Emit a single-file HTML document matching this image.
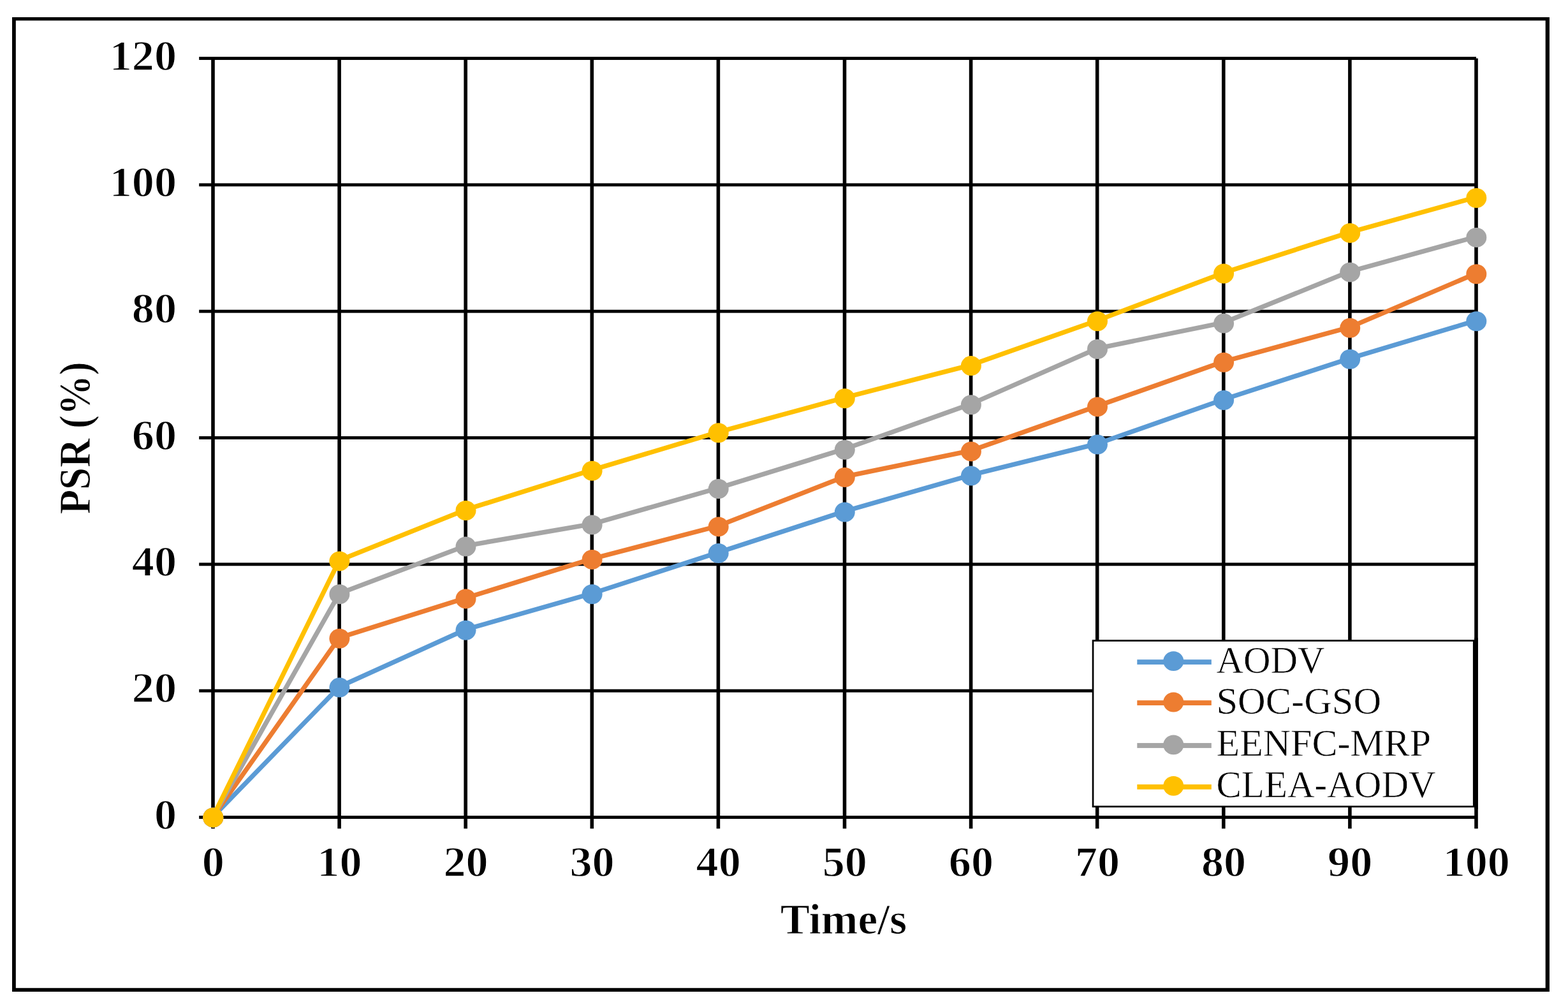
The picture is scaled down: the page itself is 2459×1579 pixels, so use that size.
<!DOCTYPE html>
<html lang="en">
<head>
<meta charset="utf-8">
<title>PSR (%) vs Time/s</title>
<style>
html,body{margin:0;padding:0;background:#fff;}
body{width:2459px;height:1579px;overflow:hidden;}
svg{display:block;}
text{font-family:"Liberation Serif","Times New Roman",serif;fill:#000;}
.tk{font-size:67.9px;font-weight:bold;stroke:#fff;stroke-width:1.3px;}
.ax{font-size:67px;font-weight:bold;stroke:#fff;stroke-width:1px;}
.lg{font-size:59.2px;stroke:#fff;stroke-width:0.6px;}
</style>
</head>
<body>
<svg width="2459" height="1579" viewBox="0 0 2459 1579">
<rect x="0" y="0" width="2459" height="1579" fill="#fff"/>
<path fill="#000" fill-rule="evenodd" d="M19.0 27.1H2430.0V1554.9H19.0Z M24.8 32.3V1549.2H2423.7V32.3Z"/>
<g fill="#000"><rect x="312.2" y="1279.05" width="2002.8" height="4.9"/><rect x="312.2" y="1080.72" width="2002.8" height="4.9"/><rect x="312.2" y="882.38" width="2002.8" height="4.9"/><rect x="312.2" y="684.05" width="2002.8" height="4.9"/><rect x="312.2" y="485.72" width="2002.8" height="4.9"/><rect x="312.2" y="287.39" width="2002.8" height="4.9"/><rect x="312.2" y="89.05" width="2002.8" height="4.9"/><rect x="331.2" y="91.5" width="5.6" height="1207.8"/><rect x="529.3" y="91.5" width="5.6" height="1207.8"/><rect x="727.4" y="91.5" width="5.6" height="1207.8"/><rect x="925.5" y="91.5" width="5.6" height="1207.8"/><rect x="1123.6" y="91.5" width="5.6" height="1207.8"/><rect x="1321.7" y="91.5" width="5.6" height="1207.8"/><rect x="1519.8" y="91.5" width="5.6" height="1207.8"/><rect x="1717.9" y="91.5" width="5.6" height="1207.8"/><rect x="1916" y="91.5" width="5.6" height="1207.8"/><rect x="2114.1" y="91.5" width="5.6" height="1207.8"/><rect x="2312.2" y="91.5" width="5.6" height="1207.8"/></g>
<polyline points="334,1280.7 532.1,1076.9 730.2,987.1 928.3,930.6 1126.4,866.3 1324.5,801.8 1522.6,744.9 1720.7,695.9 1918.8,626.4 2116.9,562 2315,502.6" fill="none" stroke="#5B9BD5" stroke-width="7.3" stroke-linejoin="round" stroke-linecap="round"/>
<g fill="#5B9BD5"><ellipse cx="334.3" cy="1281.9" rx="16.0" ry="15.5"/><ellipse cx="532.4" cy="1078.1" rx="16.0" ry="15.5"/><ellipse cx="730.5" cy="988.3" rx="16.0" ry="15.5"/><ellipse cx="928.6" cy="931.8" rx="16.0" ry="15.5"/><ellipse cx="1126.7" cy="867.5" rx="16.0" ry="15.5"/><ellipse cx="1324.8" cy="803" rx="16.0" ry="15.5"/><ellipse cx="1522.9" cy="746.1" rx="16.0" ry="15.5"/><ellipse cx="1721" cy="697.1" rx="16.0" ry="15.5"/><ellipse cx="1919.1" cy="627.6" rx="16.0" ry="15.5"/><ellipse cx="2117.2" cy="563.2" rx="16.0" ry="15.5"/><ellipse cx="2315.3" cy="503.8" rx="16.0" ry="15.5"/></g>
<polyline points="334,1280.7 532.1,1000 730.2,937.7 928.3,876.2 1126.4,824.7 1324.5,747.4 1522.6,706.7 1720.7,636.7 1918.8,567 2116.9,513 2315,428.6" fill="none" stroke="#ED7D31" stroke-width="7.3" stroke-linejoin="round" stroke-linecap="round"/>
<g fill="#ED7D31"><ellipse cx="334.3" cy="1281.9" rx="16.0" ry="15.5"/><ellipse cx="532.4" cy="1001.2" rx="16.0" ry="15.5"/><ellipse cx="730.5" cy="938.9" rx="16.0" ry="15.5"/><ellipse cx="928.6" cy="877.4" rx="16.0" ry="15.5"/><ellipse cx="1126.7" cy="825.9" rx="16.0" ry="15.5"/><ellipse cx="1324.8" cy="748.6" rx="16.0" ry="15.5"/><ellipse cx="1522.9" cy="707.9" rx="16.0" ry="15.5"/><ellipse cx="1721" cy="637.9" rx="16.0" ry="15.5"/><ellipse cx="1919.1" cy="568.2" rx="16.0" ry="15.5"/><ellipse cx="2117.2" cy="514.2" rx="16.0" ry="15.5"/><ellipse cx="2315.3" cy="429.8" rx="16.0" ry="15.5"/></g>
<polyline points="334,1280.7 532.1,930.6 730.2,855.8 928.3,821.7 1126.4,765.3 1324.5,704.1 1522.6,633.5 1720.7,546.3 1918.8,505.9 2116.9,425.7 2315,371.2" fill="none" stroke="#A5A5A5" stroke-width="7.3" stroke-linejoin="round" stroke-linecap="round"/>
<g fill="#A5A5A5"><ellipse cx="334.3" cy="1281.9" rx="16.0" ry="15.5"/><ellipse cx="532.4" cy="931.8" rx="16.0" ry="15.5"/><ellipse cx="730.5" cy="857" rx="16.0" ry="15.5"/><ellipse cx="928.6" cy="822.9" rx="16.0" ry="15.5"/><ellipse cx="1126.7" cy="766.5" rx="16.0" ry="15.5"/><ellipse cx="1324.8" cy="705.3" rx="16.0" ry="15.5"/><ellipse cx="1522.9" cy="634.7" rx="16.0" ry="15.5"/><ellipse cx="1721" cy="547.5" rx="16.0" ry="15.5"/><ellipse cx="1919.1" cy="507.1" rx="16.0" ry="15.5"/><ellipse cx="2117.2" cy="426.9" rx="16.0" ry="15.5"/><ellipse cx="2315.3" cy="372.4" rx="16.0" ry="15.5"/></g>
<polyline points="334,1280.7 532.1,878.7 730.2,799.3 928.3,737 1126.4,677.6 1324.5,623.6 1522.6,572.4 1720.7,502.6 1918.8,427.8 2116.9,364.2 2315,309.3" fill="none" stroke="#FFC000" stroke-width="7.3" stroke-linejoin="round" stroke-linecap="round"/>
<g fill="#FFC000"><ellipse cx="334.3" cy="1281.9" rx="16.0" ry="15.5"/><ellipse cx="532.4" cy="879.9" rx="16.0" ry="15.5"/><ellipse cx="730.5" cy="800.5" rx="16.0" ry="15.5"/><ellipse cx="928.6" cy="738.2" rx="16.0" ry="15.5"/><ellipse cx="1126.7" cy="678.8" rx="16.0" ry="15.5"/><ellipse cx="1324.8" cy="624.8" rx="16.0" ry="15.5"/><ellipse cx="1522.9" cy="573.6" rx="16.0" ry="15.5"/><ellipse cx="1721" cy="503.8" rx="16.0" ry="15.5"/><ellipse cx="1919.1" cy="429" rx="16.0" ry="15.5"/><ellipse cx="2117.2" cy="365.4" rx="16.0" ry="15.5"/><ellipse cx="2315.3" cy="310.5" rx="16.0" ry="15.5"/></g>
<rect x="1714.05" y="1004.55" width="597.2" height="260.2" fill="#fff" stroke="#000" stroke-width="2.7"/>
<rect x="2312.2" y="1000.2" width="5.6" height="268.89999999999986" fill="#000"/>
<rect x="1783.3" y="1034.2" width="116.5" height="7.8" fill="#5B9BD5"/>
<ellipse cx="1840.3" cy="1036.7" rx="16" ry="15.4" fill="#5B9BD5"/>
<text transform="translate(1907.5,1054.5) scale(0.994,1)" class="lg">AODV</text>
<rect x="1783.3" y="1098.2" width="116.5" height="7.8" fill="#ED7D31"/>
<ellipse cx="1840.3" cy="1101.0" rx="16" ry="15.4" fill="#ED7D31"/>
<text transform="translate(1907.5,1119.4) scale(1.021,1)" class="lg">SOC-GSO</text>
<rect x="1783.3" y="1165.1" width="116.5" height="7.8" fill="#A5A5A5"/>
<ellipse cx="1840.3" cy="1167.9" rx="16" ry="15.4" fill="#A5A5A5"/>
<text transform="translate(1907.5,1185.0) scale(1.013,1)" class="lg">EENFC-MRP</text>
<rect x="1783.3" y="1230" width="116.5" height="7.8" fill="#FFC000"/>
<ellipse cx="1840.3" cy="1232.4" rx="16" ry="15.4" fill="#FFC000"/>
<text transform="translate(1907.5,1250.3) scale(0.997,1)" class="lg">CLEA-AODV</text>
<text transform="translate(277,1299.5) scale(1.034,1)" class="tk" text-anchor="end">0</text>
<text transform="translate(277,1101.17) scale(1.034,1)" class="tk" text-anchor="end">20</text>
<text transform="translate(277,902.83) scale(1.034,1)" class="tk" text-anchor="end">40</text>
<text transform="translate(277,704.5) scale(1.034,1)" class="tk" text-anchor="end">60</text>
<text transform="translate(277,506.17) scale(1.034,1)" class="tk" text-anchor="end">80</text>
<text transform="translate(277,307.84) scale(1.034,1)" class="tk" text-anchor="end">100</text>
<text transform="translate(277,109.5) scale(1.034,1)" class="tk" text-anchor="end">120</text>
<text transform="translate(334.3,1373.5) scale(1.034,1)" class="tk" text-anchor="middle">0</text>
<text transform="translate(532.4,1373.5) scale(1.034,1)" class="tk" text-anchor="middle">10</text>
<text transform="translate(730.5,1373.5) scale(1.034,1)" class="tk" text-anchor="middle">20</text>
<text transform="translate(928.6,1373.5) scale(1.034,1)" class="tk" text-anchor="middle">30</text>
<text transform="translate(1126.7,1373.5) scale(1.034,1)" class="tk" text-anchor="middle">40</text>
<text transform="translate(1324.8,1373.5) scale(1.034,1)" class="tk" text-anchor="middle">50</text>
<text transform="translate(1522.9,1373.5) scale(1.034,1)" class="tk" text-anchor="middle">60</text>
<text transform="translate(1721,1373.5) scale(1.034,1)" class="tk" text-anchor="middle">70</text>
<text transform="translate(1919.1,1373.5) scale(1.034,1)" class="tk" text-anchor="middle">80</text>
<text transform="translate(2117.2,1373.5) scale(1.034,1)" class="tk" text-anchor="middle">90</text>
<text transform="translate(2315.3,1373.5) scale(1.034,1)" class="tk" text-anchor="middle">100</text>
<text transform="translate(1323,1464.4) scale(1.032,1)" class="ax" text-anchor="middle">Time/s</text>
<text transform="translate(141.2,686.8) rotate(-90) scale(0.938,1.04)" class="ax" text-anchor="middle">PSR (%)</text>
</svg>
</body>
</html>
